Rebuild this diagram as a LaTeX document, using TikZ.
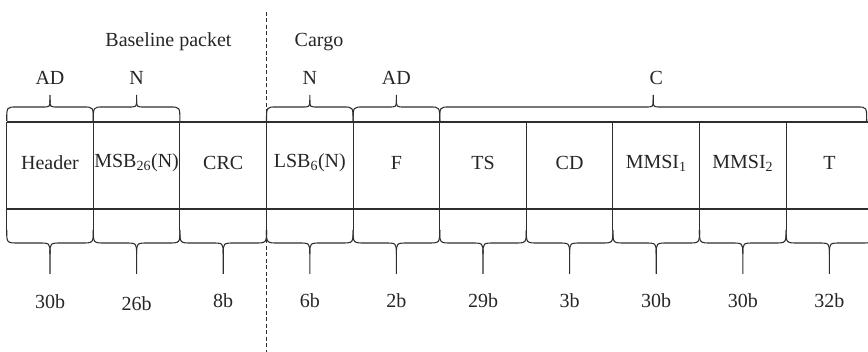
\documentclass[tikz,border=0pt]{standalone}
\usepackage{fontspec}
\setmainfont{Liberation Serif}
\tikzset{
  ln/.style={draw=black!82, line width=1.1pt},
  dline/.style={draw=black!82, line width=1.1pt, dash pattern=on 4pt off 2.5pt},
  txt/.style={text=black!85, font=\fontsize{20}{24}\selectfont, inner sep=0pt, anchor=center},
}
% brace below a cell: x0, x1
\newcommand{\mybracedown}[2]{%
  \pgfmathsetmacro\xa{#1}\pgfmathsetmacro\xb{#2}\pgfmathsetmacro\xm{(#1+#2)/2}%
  \draw[ln] (\xa,230) .. controls (\xa,243) .. ({\xa+12},243) -- ({\xm-12},243)
    .. controls (\xm,243) .. (\xm,254) -- (\xm,274);
  \draw[ln] (\xm,254) .. controls (\xm,243) .. ({\xm+12},243) -- ({\xb-12},243)
    .. controls (\xb,243) .. (\xb,230);
}
% brace above: x0, x1
\newcommand{\mybraceup}[2]{%
  \pgfmathsetmacro\xa{#1}\pgfmathsetmacro\xb{#2}\pgfmathsetmacro\xm{(#1+#2)/2}%
  \draw[ln] (\xa,121) .. controls (\xa,107) .. ({\xa+10},107) -- ({\xm-8},107)
    .. controls (\xm,107) .. (\xm,100) -- (\xm,95);
  \draw[ln] (\xm,100) .. controls (\xm,107) .. ({\xm+8},107) -- ({\xb-10},107)
    .. controls (\xb,107) .. (\xb,121);
}
\begin{document}
\begin{tikzpicture}[x=1pt,y=-1pt]
\useasboundingbox (0,0) rectangle (868,352);
% horizontal lines
\draw[ln] (6.7,122) -- (868,122);
\draw[ln] (6.7,209) -- (868,209);
% vertical cell lines
\foreach \k in {0,...,10}{
  \pgfmathsetmacro\xx{6.7+86.6*\k}
  \draw[ln] (\xx,122) -- (\xx,230);
}
% bottom braces
\foreach \k in {0,...,9}{
  \mybracedown{6.7+86.6*\k}{6.7+86.6*(\k+1)}
}
% top braces
\mybraceup{6.7}{93.3}
\mybraceup{93.3}{179.9}
\mybraceup{266.5}{353.1}
\mybraceup{353.1}{439.7}
\mybraceup{439.7}{866.7}
% dashed separator
\coordinate (dtop) at (266.5,12);
\coordinate (dbot) at (266.5,352);
\draw[dline] (dtop) -- (dbot);
% cell labels
\node[txt] (hdr) at (50.0,163) {Header};
\node[txt] (msb) at (136.6,163) {MSB\textsubscript{26}(N)};
\node[txt] (crc) at (223.2,163) {CRC};
\node[txt] (lsb) at (309.8,163) {LSB\textsubscript{6}(N)};
\node[txt] (f)   at (396.4,163) {F};
\node[txt] (ts)  at (483.0,163) {TS};
\node[txt] (cd)  at (569.6,163) {CD};
\node[txt] (m1)  at (656.2,163) {MMSI\textsubscript{1}};
\node[txt] (m2)  at (742.8,163) {MMSI\textsubscript{2}};
\node[txt] (t)   at (829.4,163) {T};
% bit sizes
\node[txt] (b1)  at (50.0,302) {30b};
\node[txt] (b2)  at (136.6,304) {26b};
\node[txt] (b3)  at (223.2,301) {8b};
\node[txt] (b4)  at (309.8,301) {6b};
\node[txt] (b5)  at (396.4,301) {2b};
\node[txt] (b6)  at (483.0,301) {29b};
\node[txt] (b7)  at (569.6,301) {3b};
\node[txt] (b8)  at (656.2,301) {30b};
\node[txt] (b9)  at (742.8,301) {30b};
\node[txt] (b10) at (829.4,301) {32b};
% brace labels
\node[txt] (l1) at (50.0,78) {AD};
\node[txt] (l2) at (136.6,78) {N};
\node[txt] (l3) at (309.8,78) {N};
\node[txt] (l4) at (396.4,78) {AD};
\node[txt] (l5) at (656.2,78) {C};
% group titles
\node[txt] (bp) at (168.5,42) {Baseline packet};
\node[txt] (cg) at (319,42) {Cargo};
\end{tikzpicture}
\end{document}
